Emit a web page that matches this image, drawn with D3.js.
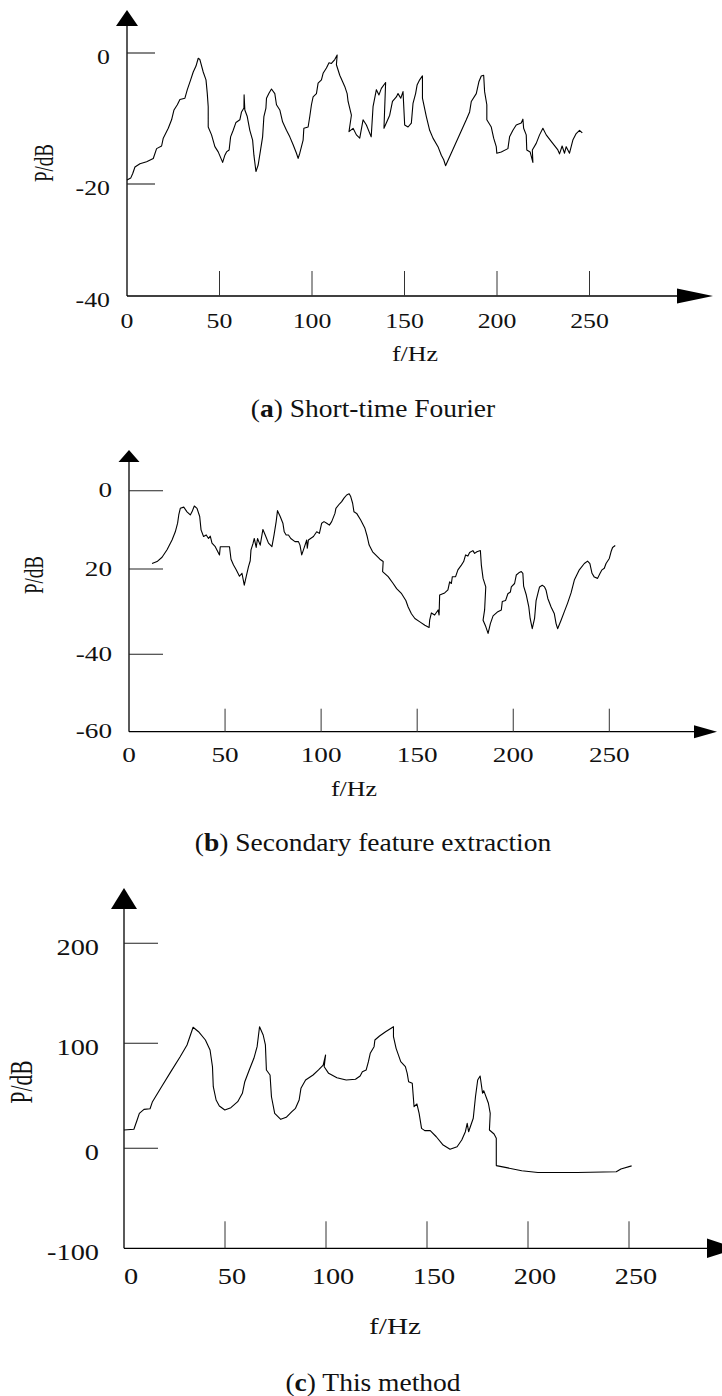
<!DOCTYPE html>
<html>
<head>
<meta charset="utf-8">
<script src="https://cdn.jsdelivr.net/npm/d3@7/dist/d3.min.js"></script>
<style>
  html, body { margin: 0; padding: 0; background: #fff; }
  svg { display: block; }
</style>
</head>
<body>
<svg id="chart" width="722" height="1396"></svg>
<script>
// ---------------- DATA ----------------
const xTickValues = [0, 50, 100, 150, 200, 250];
const xTickLabels = ["0", "50", "100", "150", "200", "250"];

// (a) Short-time Fourier
const aFreq = [0,2.0,3.1,4.3,7.0,10.6,14.2,16.0,18.7,19.6,22.3,24.1,25.4,27.2,28.6,31.3,32.6,34.4,35.8,37.3,38.5,39.4,41.2,42.7,43.4,43.9,43.9,45.7,47.5,49.3,51.7,52.9,53.8,55.2,56.0,57.4,58.9,61.0,61.9,63.2,63.3,63.7,65.0,66.4,67.9,68.6,69.7,70.9,72.2,73.3,74.0,75.1,75.4,76.8,78.1,79.9,80.8,82.6,84.1,86.2,88.0,89.8,91.6,92.5,93.4,94.3,95.2,95.6,97.9,98.8,99.7,100.6,102.4,103.3,105.1,106.0,107.8,109.2,110.5,112.3,113.6,113.2,115.0,117.7,119.0,119.5,121.3,120.0,122.2,124.0,125.8,127.6,129.4,132.0,133.0,134.8,136.2,137.5,139.8,138.9,142.0,143.5,145.6,146.5,148.0,149.2,150.1,151.9,153.7,154.6,156.0,156.8,158.2,159.7,159.7,161.8,163.6,165.4,168.1,169.9,171.2,172.2,183.4,185.2,186.1,188.8,190.2,191.5,192.8,193.3,194.5,194.5,196.9,198.2,199.6,199.9,202.3,205.9,206.8,208.6,210.4,213.1,214.0,214.4,215.8,216.1,217.9,219.4,219.1,221.2,223.0,224.8,226.6,229.3,232.9,233.8,235.2,236.5,237.4,239.2,241.0,242.8,244.6,246.1];
const aPower = [-19.4,-19.1,-18.4,-17.4,-16.9,-16.6,-16.1,-14.6,-14.2,-13.0,-11.5,-10.2,-8.7,-7.9,-7.1,-6.9,-5.6,-4.1,-2.9,-2.0,-0.8,-1.0,-2.9,-4.1,-6.2,-8.2,-11.3,-12.5,-14.3,-15.1,-16.7,-15.6,-15.1,-14.8,-12.8,-11.8,-10.6,-10.2,-9.0,-8.4,-6.4,-8.7,-9.7,-11.8,-13.3,-15.6,-18.1,-17.1,-14.8,-12.8,-9.7,-8.4,-6.9,-6.1,-5.5,-6.2,-7.9,-8.7,-10.5,-11.8,-12.8,-14.0,-15.3,-16.1,-15.3,-14.3,-13.3,-11.5,-11.3,-9.7,-7.9,-6.7,-6.2,-4.6,-4.1,-3.1,-2.3,-1.5,-1.6,-1.0,-0.3,-1.8,-3.4,-5.1,-6.2,-7.4,-9.5,-12.0,-11.5,-12.5,-13.0,-10.2,-11.0,-12.8,-8.2,-5.6,-6.4,-5.4,-4.5,-11.5,-9.5,-7.4,-6.7,-6.2,-6.9,-5.9,-11.0,-11.3,-10.7,-7.7,-6.2,-4.9,-4.1,-3.5,-6.9,-9.7,-11.8,-13.0,-14.3,-15.6,-16.3,-17.2,-10.2,-9.0,-7.4,-6.2,-4.4,-3.5,-3.4,-5.9,-7.9,-10.2,-11.3,-13.0,-14.3,-15.3,-15.1,-14.6,-12.8,-11.8,-11.0,-10.7,-10.1,-11.5,-12.5,-14.8,-15.1,-16.7,-14.8,-13.8,-12.5,-11.5,-12.5,-13.5,-14.8,-15.4,-14.2,-15.3,-14.3,-15.3,-13.3,-12.3,-11.8,-12.2];
const aYTickValues = [0, -20, -40];
const aYTickLabels = ["0", "-20", "-40"];

// (b) Secondary feature extraction
const bFreq = [12.0,14.6,17.2,19.8,22.4,24.1,25.3,25.9,26.7,28.5,30.2,31.9,32.8,34.0,35.4,36.8,37.5,38.8,40.2,41.4,42.3,43.2,44.9,47.1,47.5,52.3,53.1,54.4,55.8,57.5,58.8,60.0,61.0,62.2,63.1,63.5,64.5,65.2,66.2,66.9,68.3,69.7,70.9,72.6,74.4,75.5,76.6,77.3,78.7,80.1,80.8,81.8,83.0,84.2,86.4,88.2,89.0,89.9,90.8,92.5,92.8,93.4,96.0,97.7,99.1,100.3,101.5,102.9,104.3,105.5,107.2,107.7,109.5,110.7,111.9,113.3,114.6,115.4,116.4,117.1,118.5,120.6,122.8,124.0,125.0,126.8,130.6,132.3,132.0,134.9,137.5,139.3,141.9,144.1,145.3,147.0,148.8,151.4,154.0,156.2,156.5,157.4,159.1,160.9,161.4,161.7,164.3,166.0,166.9,167.8,168.3,170.0,171.2,173.0,174.2,175.2,176.4,177.3,179.0,179.9,181.1,182.9,183.4,184.3,185.7,185.1,184.3,185.7,186.9,188.1,189.5,192.0,193.8,194.3,196.0,197.2,198.5,199.0,200.7,201.6,202.9,204.2,205.0,205.4,206.8,208.1,208.8,209.9,211.1,211.9,212.8,213.7,215.1,216.3,217.1,218.0,219.7,221.4,222.3,223.1,224.9,226.6,228.3,230.1,231.8,234.4,237.0,238.7,239.9,241.0,242.2,243.9,245.2,246.2,247.4,248.3,250.0,250.9,251.7,253.1];
const bPower = [-18.6,-18.1,-17.0,-15.1,-12.6,-10.5,-8.3,-6.2,-4.5,-4.2,-5.4,-6.2,-5.4,-3.9,-4.5,-6.6,-10.0,-11.7,-11.3,-12.2,-11.6,-13.4,-14.3,-16.4,-14.3,-14.3,-17.5,-19.0,-20.2,-21.7,-21.0,-23.8,-21.8,-19.4,-17.9,-15.1,-13.6,-12.2,-14.5,-12.2,-13.9,-9.9,-11.3,-13.4,-14.3,-11.3,-7.9,-5.1,-6.6,-8.3,-10.5,-11.3,-11.3,-12.2,-13.0,-13.0,-13.9,-16.4,-15.1,-12.6,-14.7,-12.6,-11.7,-10.5,-10.9,-8.3,-7.9,-8.3,-8.8,-7.9,-5.8,-4.5,-3.4,-2.8,-1.9,-1.1,-0.8,-1.5,-3.2,-5.4,-5.8,-7.5,-9.6,-11.7,-13.9,-15.6,-17.5,-18.1,-20.6,-21.8,-23.4,-24.6,-25.8,-27.4,-28.9,-30.5,-31.6,-32.4,-33.2,-33.7,-32.0,-30.3,-30.8,-29.6,-30.8,-26.1,-25.6,-24.9,-23.0,-23.4,-21.8,-21.8,-20.2,-19.0,-18.1,-16.4,-16.7,-15.8,-15.3,-16.0,-15.6,-15.3,-19.0,-22.2,-24.2,-29.6,-32.0,-33.5,-35.1,-32.8,-31.0,-30.0,-29.6,-27.6,-27.4,-25.8,-25.4,-24.2,-23.4,-21.4,-20.9,-20.6,-21.0,-24.0,-26.1,-28.9,-31.6,-34.0,-31.6,-27.4,-25.8,-24.2,-23.8,-24.2,-25.0,-26.9,-28.9,-30.5,-32.8,-34.0,-32.0,-30.0,-28.0,-25.6,-22.6,-20.2,-18.6,-18.0,-18.6,-21.0,-21.9,-22.2,-21.0,-20.2,-19.8,-18.6,-17.3,-15.6,-14.5,-14.0];
const bYTickValues = [0, -20, -40, -60];
const bYTickLabels = ["0", "20", "-40", "-60"];

// (c) This method
const cFreq = [0,4.9,6.5,7.6,9.9,12.9,14.1,18.6,23.2,27.8,31.2,34.2,36.9,40.3,42.6,43.8,44.2,45.6,47.2,49.9,52.9,56.3,58.6,59.8,62.0,64.3,65.9,67.1,68.9,70.0,70.5,72.3,73.0,74.6,77.6,80.3,83.1,84.9,86.7,87.6,89.9,93.6,96.3,98.6,99.8,99.1,101.3,105.4,110.0,114.6,116.9,118.0,119.9,121.0,121.9,123.8,124.2,126.5,129.5,133.4,133.4,134.7,137.0,139.3,140.2,140.9,142.7,143.6,145.0,146.1,147.3,148.9,151.6,154.6,158.0,161.4,164.9,167.2,169.0,169.9,170.6,172.9,174.0,175.1,176.3,177.5,178.1,180.4,181.3,180.9,183.2,184.3,184.3,190.0,196.9,204.9,224.3,243.7,246.0,251.3];
const cPower = [17.4,18.1,27.0,33.3,37.1,37.7,44.4,58.7,73.0,87.2,98.4,116.0,111.6,103.3,93.6,77.7,58.7,46.0,40.3,36.5,38.7,44.4,52.4,63.4,74.6,85.7,96.8,116.6,108.3,98.4,74.6,69.8,49.1,33.3,27.6,29.5,34.9,38.1,46.0,57.1,65.0,69.8,74.6,79.3,88.9,77.7,71.4,67.2,65.0,65.7,68.9,72.9,74.6,82.5,90.5,96.8,103.3,107.3,111.6,116.6,106.6,95.2,82.5,77.7,71.4,63.4,61.9,39.6,42.2,33.3,19.0,16.8,16.8,11.0,3.1,-1.0,1.5,7.9,15.8,23.8,15.8,28.6,49.1,65.0,68.9,52.4,54.9,42.9,33.3,17.4,13.6,9.5,-17.3,-19.6,-22.4,-24.2,-24.2,-23.5,-20.7,-17.6];
const cYTickValues = [200, 100, 0, -100];
const cYTickLabels = ["200", "100", "0", "-100"];

const captionLetters = ["a", "b", "c"];
const captionTexts = [" Short-time Fourier", " Secondary feature extraction", " This method"];
const yAxisTitle = "P/dB";
const xAxisTitle = "f/Hz";

// ---------------- LAYOUT ----------------
const panels = [
  { freq: aFreq, power: aPower, yTicks: aYTickValues, yLabels: aYTickLabels,
    xRange: [127, 589.5], yDomain: [-40, -20, 0], yRange: [296, 184, 53],
    axisTop: 10, arrowUp: {len: 16, half: 11}, axisRight: 713, arrowRight: {len: 36, half: 7.5},
    yTickLen: 28, xTickLen: 25, yLabelRight: 110, yLabelDy: 4, xLabelY: 321, xLabelDx: 0,
    font: 20, stretch: 1.29, titleFont: 19,
    yTitle: [44, 163], xTitle: [415, 354], caption: [373, 408] },
  { freq: bFreq, power: bPower, yTicks: bYTickValues, yLabels: bYTickLabels,
    xRange: [129, 609.3], yDomain: [-60, -40, -20, 0], yRange: [731.7, 654.3, 569, 490.7],
    axisTop: 450, arrowUp: {len: 12, half: 10.5}, axisRight: 717, arrowRight: {len: 23, half: 6.5},
    yTickLen: 34, xTickLen: 23, yLabelRight: 112, yLabelDy: 0, xLabelY: 755, xLabelDx: 0,
    font: 20, stretch: 1.36, titleFont: 19,
    yTitle: [34, 575], xTitle: [354, 789], caption: [373, 842] },
  { freq: cFreq, power: cPower, yTicks: cYTickValues, yLabels: cYTickLabels,
    xRange: [124, 629], yDomain: [-100, 0, 100, 200], yRange: [1248.3, 1148.3, 1043.3, 943.3],
    axisTop: 888, arrowUp: {len: 21, half: 13}, axisRight: 737, arrowRight: {len: 30, half: 9.7},
    yTickLen: 34, xTickLen: 27, yLabelRight: 99, yLabelDy: 4, xLabelY: 1277, xLabelDx: 7,
    font: 22.5, stretch: 1.26, titleFont: 21.5,
    yTitle: [22, 1082], xTitle: [395, 1327], caption: [373, 1382] }
];

const svg = d3.select("#chart");
const serif = "'Liberation Serif', 'Times New Roman', serif";

panels.forEach((p, i) => {
  const g = svg.append("g");
  const x = d3.scaleLinear().domain([0, 250]).range(p.xRange);
  const y = d3.scaleLinear().domain(p.yDomain).range(p.yRange);
  const x0 = x(0);
  const yBase = y(p.yDomain[0]);

  // y axis line + arrow
  g.append("line").attr("x1", x0).attr("x2", x0)
    .attr("y1", p.axisTop + p.arrowUp.len - 2).attr("y2", yBase)
    .attr("stroke", "#000").attr("stroke-width", 1.3);
  g.append("path")
    .attr("d", `M${x0},${p.axisTop} L${x0 - p.arrowUp.half},${p.axisTop + p.arrowUp.len} L${x0 + p.arrowUp.half},${p.axisTop + p.arrowUp.len} Z`)
    .attr("fill", "#000");

  // x axis line + arrow
  g.append("line").attr("x1", x0).attr("x2", p.axisRight - p.arrowRight.len + 2)
    .attr("y1", yBase).attr("y2", yBase)
    .attr("stroke", "#000").attr("stroke-width", 1.3);
  g.append("path")
    .attr("d", `M${p.axisRight},${yBase} L${p.axisRight - p.arrowRight.len},${yBase - p.arrowRight.half} L${p.axisRight - p.arrowRight.len},${yBase + p.arrowRight.half} Z`)
    .attr("fill", "#000");

  // x ticks (upward)
  g.selectAll(".xt").data(xTickValues.filter(v => v > 0)).enter().append("line")
    .attr("x1", d => x(d)).attr("x2", d => x(d))
    .attr("y1", yBase).attr("y2", yBase - p.xTickLen)
    .attr("stroke", "#333").attr("stroke-width", 1);

  // y ticks (rightward), skip the base
  g.selectAll(".yt").data(p.yTicks.filter(v => v !== p.yDomain[0])).enter().append("line")
    .attr("x1", x0).attr("x2", x0 + p.yTickLen)
    .attr("y1", d => y(d)).attr("y2", d => y(d))
    .attr("stroke", "#222").attr("stroke-width", 1.1);

  // x tick labels
  xTickValues.forEach((v, k) => {
    g.append("g").attr("transform", `translate(${x(v) + p.xLabelDx},${p.xLabelY}) scale(${p.stretch},1)`)
      .append("text").attr("text-anchor", "middle").attr("dominant-baseline", "central")
      .attr("font-family", serif).attr("font-size", p.font).attr("fill", "#111")
      .text(xTickLabels[k]);
  });

  // y tick labels
  p.yTicks.forEach((v, k) => {
    g.append("g").attr("transform", `translate(${p.yLabelRight},${y(v) + p.yLabelDy}) scale(${p.stretch},1)`)
      .append("text").attr("text-anchor", "end").attr("dominant-baseline", "central")
      .attr("font-family", serif).attr("font-size", p.font).attr("fill", "#111")
      .text(p.yLabels[k]);
  });

  // axis titles
  g.append("g").attr("transform", `translate(${p.yTitle[0]},${p.yTitle[1]}) scale(1.45,1) rotate(-90)`)
    .append("text").attr("text-anchor", "middle").attr("dominant-baseline", "central")
    .attr("font-family", serif).attr("font-size", p.titleFont).attr("fill", "#111")
    .text(yAxisTitle);
  g.append("g").attr("transform", `translate(${p.xTitle[0]},${p.xTitle[1]}) scale(1.3,1)`)
    .append("text").attr("text-anchor", "middle").attr("dominant-baseline", "central")
    .attr("font-family", serif).attr("font-size", p.titleFont + 1).attr("fill", "#111")
    .text(xAxisTitle);

  // data line
  const line = d3.line().x(d => x(d[0])).y(d => y(d[1]));
  g.append("path").datum(d3.zip(p.freq, p.power))
    .attr("d", line).attr("fill", "none")
    .attr("stroke", "#000").attr("stroke-width", 1.1)
    .attr("stroke-linejoin", "round");

  // caption
  const cap = g.append("g").attr("transform", `translate(${p.caption[0]},${p.caption[1]}) scale(1.1,1)`)
    .append("text").attr("text-anchor", "middle").attr("dominant-baseline", "central")
    .attr("font-family", serif).attr("font-size", 25).attr("fill", "#111");
  cap.append("tspan").text("(");
  cap.append("tspan").attr("font-weight", "bold").text(captionLetters[i]);
  cap.append("tspan").text(")" + captionTexts[i]);
});
</script>
</body>
</html>
